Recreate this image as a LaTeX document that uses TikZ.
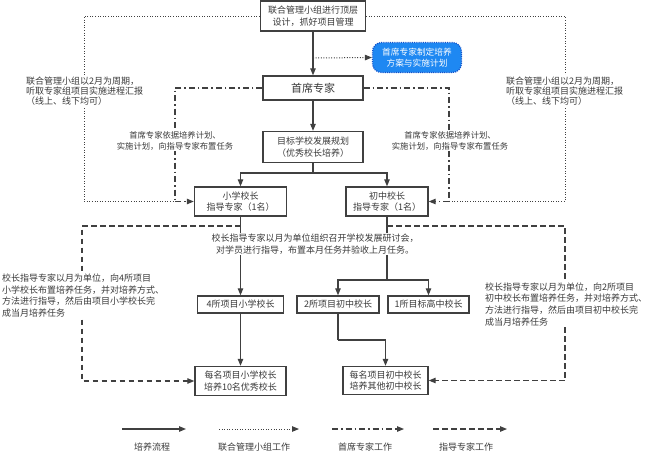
\documentclass[tikz,border=0pt]{standalone}
\usepackage{fontspec}
\setmainfont{Noto Sans CJK SC}
\usetikzlibrary{arrows.meta}
\definecolor{linec}{HTML}{404040}
\definecolor{txt}{HTML}{3A3A3A}
\definecolor{bluefill}{HTML}{1E88F2}
\definecolor{blueedge}{HTML}{1450C8}
\begin{document}
\begin{tikzpicture}[x=1pt,y=-1pt,
  box/.style={draw=linec,line width=1.4pt,fill=white,text=txt,align=center,inner sep=0pt,font=\fontsize{9}{12}\selectfont},
  tip/.style={-{Triangle[length=7pt,width=5.5pt]}},
  flowline/.style={draw=linec,line width=1.1pt},
  flow/.style={flowline,tip},
  jmline/.style={draw=linec,line width=1pt,dash pattern=on 1pt off 1.6pt},
  chline/.style={draw=linec,line width=1.1pt,dash pattern=on 6pt off 3pt on 1.5pt off 3pt},
  gdline/.style={draw=linec,line width=1.1pt,dash pattern=on 5.5pt off 3.5pt},
  lbl/.style={fill=white,text=txt,inner sep=1pt,font=\fontsize{9}{10.3}\selectfont},
]
\useasboundingbox (0,0) rectangle (648,456);

% ---------- boxes ----------
\node[box,minimum width=105pt,minimum height=30pt] (top) at (313,16) {联合管理小组进行顶层\\设计，抓好项目管理};
\node[draw=blueedge,line width=1.2pt,dash pattern=on 1pt off 1.2pt,fill=bluefill,rounded corners=9pt,
      minimum width=89pt,minimum height=30pt,text=white,align=center,inner sep=0pt,
      font=\fontsize{8.7}{11}\selectfont] (blue) at (417,57.5) {首席专家制定培养\\方案与实施计划};
\node[box,minimum width=100pt,minimum height=24pt,font=\fontsize{11}{13}\selectfont] (chief) at (313,88) {首席专家};
\node[box,minimum width=100pt,minimum height=31pt] (plan) at (313,147) {目标学校发展规划\\（优秀校长培养）};
\node[box,minimum width=92pt,minimum height=29pt,font=\fontsize{9}{11.3}\selectfont] (pri) at (240.5,201.5) {小学校长\\指导专家（1名）};
\node[box,minimum width=82pt,minimum height=29pt,font=\fontsize{9}{11.3}\selectfont] (mid) at (387,201.5) {初中校长\\指导专家（1名）};
\node[box,minimum width=86pt,minimum height=17pt] (p4) at (240.5,304.5) {4所项目小学校长};
\node[box,minimum width=82pt,minimum height=17pt] (m2) at (338,304.5) {2所项目初中校长};
\node[box,minimum width=81pt,minimum height=17pt] (h1) at (428.5,304.5) {1所目标高中校长};
\node[box,minimum width=91pt,minimum height=29pt,font=\fontsize{9}{11.5}\selectfont] (eachP) at (240.5,381) {每名项目小学校长\\培养10名优秀校长};
\node[box,minimum width=85pt,minimum height=28pt,font=\fontsize{9}{11.5}\selectfont] (eachM) at (385.5,380.5) {每名项目初中校长\\培养其他初中校长};

% ---------- helper coordinates ----------
\coordinate (tb) at (313,58);
\coordinate (pj) at (313,173);
\coordinate (jl1) at (84,16);
\coordinate (jl2) at (84,201.5);
\coordinate (cl1) at (175,88);
\coordinate (cl2) at (175,201.5);
\coordinate (jr1) at (565,16);
\coordinate (jr2) at (565,201.5);
\coordinate (cr1) at (449,88);
\coordinate (cr2) at (449,201.5);
\coordinate (gl0) at (240.5,226);
\coordinate (gl1) at (82,226);
\coordinate (gl2) at (82,381);
\coordinate (gr0) at (387,226);
\coordinate (gr1) at (565,226);
\coordinate (gr2) at (565,380.5);
\coordinate (mj) at (387,280);
\coordinate (m2b) at (338,340);

% ---------- solid flow ----------
\draw[flow] (top) -- (chief);
\draw[flow] (chief) -- (plan);
\draw[flowline] (plan.south) -- (pj);
\draw[flow] (pj) -| (pri.north);
\draw[flow] (pj) -| (mid.north);
\draw[flow] (pri) -- (p4);
\draw[flowline] (mid.south) -- (mj);
\draw[flow] (mj) -| (m2.north);
\draw[flow] (mj) -| (h1.north);
\draw[flow] (p4) -- (eachP);
\draw[flowline] (m2.south) -- (m2b);
\draw[flow] (m2b) -| (eachM.north);

% ---------- joint management (dotted) ----------
\draw[jmline,tip] (tb) -- (blue.west);
\draw[jmline] (top.west) -- (jl1) -- (jl2) -- (cl2);
\draw[jmline] (top.east) -- (jr1) -- (jr2) -- (cr2);

% ---------- chief expert (dash-dot) ----------
\draw[chline] (chief.west) -- (cl1) -- (cl2);
\draw[chline,tip] (cl2) -- (pri.west);
\draw[chline] (chief.east) -- (cr1) -- (cr2);
\draw[chline,tip] (cr2) -- (mid.east);

% ---------- guiding expert (dashed) ----------
\draw[gdline,tip] (gl0) -- (gl1) -- (gl2) -- (eachP.west);
\draw[gdline,tip] (gr0) -- (gr1) -- (gr2) -- (eachM.east);

% ---------- labels ----------
\node[lbl,align=left,anchor=west] (jmL) at (25,91) {联合管理小组以2月为周期，\\听取专家组项目实施进程汇报\\（线上、线下均可）};
\node[lbl,align=left,anchor=west] (jmR) at (505,91) {联合管理小组以2月为周期，\\听取专家组项目实施进程汇报\\（线上、线下均可）};
\node[lbl,align=center,font=\fontsize{8.3}{11}\selectfont] (chL) at (175,140.5) {首席专家依据培养计划、\\实施计划，向指导专家布置任务};
\node[lbl,align=center,font=\fontsize{8.3}{11}\selectfont] (chR) at (450,140.5) {首席专家依据培养计划、\\实施计划，向指导专家布置任务};
\node[lbl,align=center,font=\fontsize{9}{11.7}\selectfont] (mon) at (315,244) {校长指导专家以月为单位组织召开学校发展研讨会，\\对学员进行指导，布置本月任务并验收上月任务。};
\node[lbl,align=left,anchor=west,font=\fontsize{9}{11.7}\selectfont] (gdL) at (1,295.5) {校长指导专家以月为单位，向4所项目\\小学校长布置培养任务，并对培养方式、\\方法进行指导，然后由项目小学校长完\\成当月培养任务};
\node[lbl,align=left,anchor=west,font=\fontsize{9}{11.7}\selectfont] (gdR) at (484,304.3) {校长指导专家以月为单位，向2所项目\\初中校长布置培养任务，并对培养方式、\\方法进行指导，然后由项目初中校长完\\成当月培养任务};

% ---------- legend ----------
\coordinate (a1) at (122,429); \coordinate (a2) at (186,429);
\coordinate (b1) at (219,429); \coordinate (b2) at (299,429);
\coordinate (c1) at (332,429); \coordinate (c2) at (404,429);
\coordinate (d1) at (433,429); \coordinate (d2) at (507,429);
\draw[flow] (a1) -- (a2);
\draw[jmline,tip] (b1) -- (b2);
\draw[chline,tip] (c1) -- (c2);
\draw[gdline,tip] (d1) -- (d2);
\node[lbl] (la) at (152,447) {培养流程};
\node[lbl] (lb) at (254,447) {联合管理小组工作};
\node[lbl] (lc) at (365,447) {首席专家工作};
\node[lbl] (ld) at (466,447) {指导专家工作};
\end{tikzpicture}
\end{document}
